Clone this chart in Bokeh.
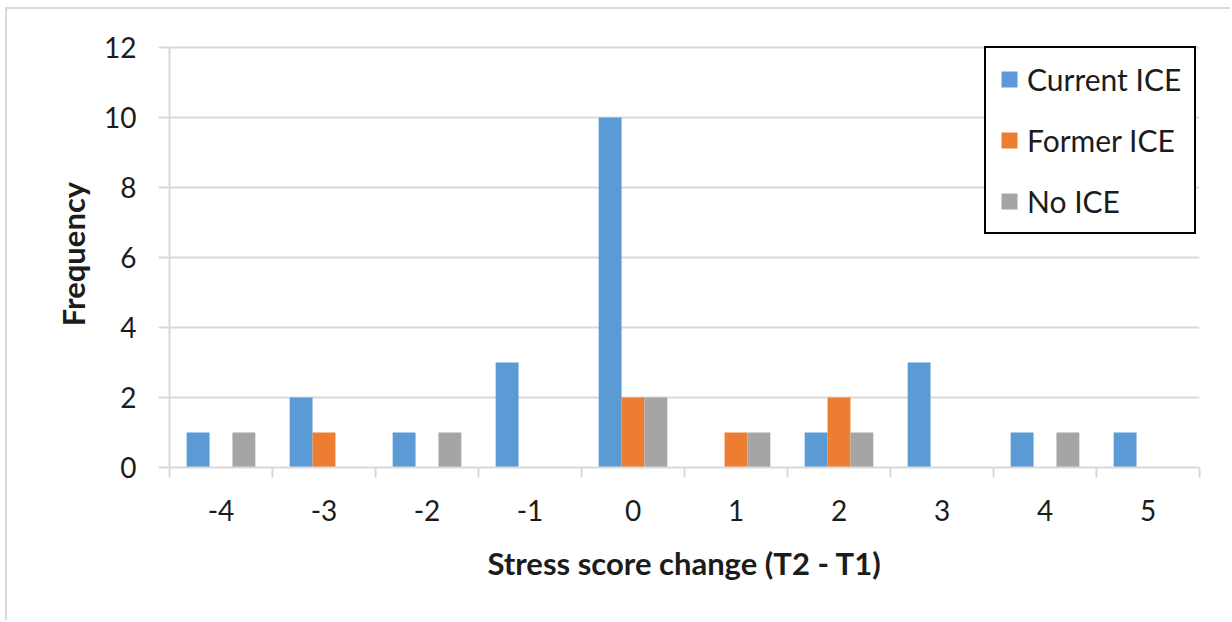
from bokeh.plotting import figure
from bokeh.models import Range1d, FixedTicker, Legend, LegendItem, ColumnDataSource
from bokeh.transform import dodge
from bokeh.embed import file_html
from bokeh.resources import INLINE

# Stress score change categories and frequency per group
changes = [-4, -3, -2, -1, 0, 1, 2, 3, 4, 5]
current_ice = [1, 2, 1, 3, 10, 0, 1, 3, 1, 1]
former_ice = [0, 1, 0, 0, 2, 1, 2, 0, 0, 0]
no_ice = [1, 0, 1, 0, 2, 1, 1, 0, 1, 0]
series_names = ["Current ICE", "Former ICE", "No ICE"]
series_colors = ["#5B9BD5", "#ED7D31", "#A5A5A5"]
y_ticks = [0, 2, 4, 6, 8, 10, 12]

FONT = "Lato"
TEXT = "#1c1c1c"
GRID = "#d9d9d9"

source = ColumnDataSource(dict(x=changes, cur=current_ice, frm=former_ice, no=no_ice))

# a little headroom above 12 so the legend box is not clipped by the frame
p = figure(
    width=1225, height=613,
    x_range=Range1d(changes[0] - 0.5, changes[-1] + 0.5),
    y_range=Range1d(0, 12.2),
    output_backend="svg", toolbar_location=None,
    min_border_left=162, min_border_right=33,
    min_border_top=31, min_border_bottom=155,
)
# chart-area border (left and top edges)
p.styles = {
    "margin-left": "5px", "margin-top": "7px",
    "border-left": "2px solid #d9d9d9", "border-top": "2px solid #d9d9d9",
}

p.outline_line_color = None
p.background_fill_color = "white"
p.border_fill_color = "white"

bw = 1.0 / 4.5  # three bars with a 150% gap
offsets = [-bw, 0.0, bw]
cols = ["cur", "frm", "no"]
renderers = []
for col, off, color in zip(cols, offsets, series_colors):
    r = p.vbar(x=dodge("x", off), top=col, width=bw, bottom=0, source=source,
               fill_color=color, line_color=None)
    renderers.append(r)

# Axes
p.xaxis.ticker = FixedTicker(ticks=changes, minor_ticks=[c - 0.5 for c in changes] + [changes[-1] + 0.5])
p.xaxis.major_label_overrides = {c: str(c) for c in changes}
p.xaxis.major_tick_out = 0
p.xaxis.major_tick_in = 0
p.xaxis.minor_tick_out = 10
p.xaxis.minor_tick_in = 0
p.xaxis.minor_tick_line_color = GRID
p.xaxis.minor_tick_line_width = 2
p.xaxis.axis_line_color = GRID
p.xaxis.axis_line_width = 2
p.xaxis.major_label_standoff = 22
p.xaxis.axis_label = "Stress score change (T2 - T1)"
p.xaxis.axis_label_standoff = 20

p.yaxis.ticker = FixedTicker(ticks=y_ticks)
p.yaxis.bounds = (0, 12)
p.yaxis.major_tick_out = 11
p.yaxis.major_tick_in = 0
p.yaxis.minor_tick_line_color = None
p.yaxis.major_tick_line_color = GRID
p.yaxis.major_tick_line_width = 2
p.yaxis.axis_line_color = GRID
p.yaxis.axis_line_width = 2
p.yaxis.major_label_standoff = 22
p.yaxis.axis_label = "Frequency"
p.yaxis.axis_label_standoff = 9

for ax in (p.xaxis, p.yaxis):
    ax.major_label_text_font = FONT
    ax.major_label_text_font_size = "28px"
    ax.major_label_text_color = TEXT
    ax.axis_label_text_font = FONT
    ax.axis_label_text_font_size = "31px"
    ax.axis_label_text_font_style = "bold"
    ax.axis_label_text_color = TEXT

p.xgrid.grid_line_color = None
p.ygrid.ticker = FixedTicker(ticks=y_ticks)
p.ygrid.grid_line_color = GRID
p.ygrid.grid_line_width = 2

legend = Legend(
    items=[LegendItem(label=n, renderers=[r]) for n, r in zip(series_names, renderers)],
    location=(815, 233),
    orientation="vertical",
    label_text_font=FONT, label_text_font_size="30px", label_text_color=TEXT,
    glyph_width=20, glyph_height=20, label_height=30, label_standoff=8,
    spacing=25, padding=13, margin=0,
    border_line_color="black", border_line_width=2, border_line_alpha=1,
    background_fill_color="white", background_fill_alpha=1,
)
p.add_layout(legend, "center")

open("out.html", "w").write(file_html(p, INLINE))
